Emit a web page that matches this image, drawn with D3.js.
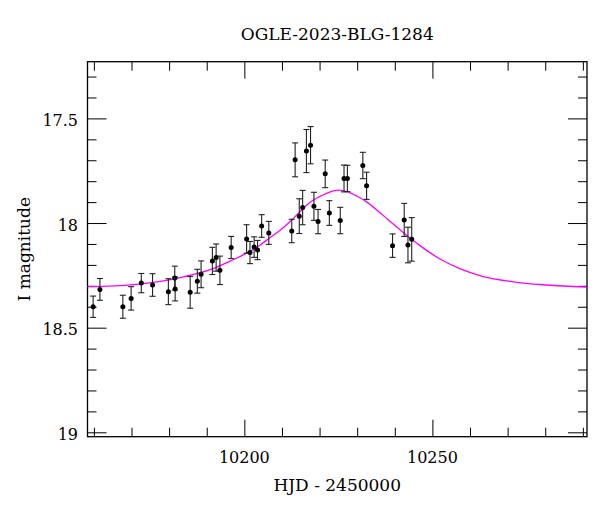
<!DOCTYPE html>
<html>
<head>
<meta charset="utf-8">
<script src="https://cdn.jsdelivr.net/npm/d3@7"></script>
<style>
  body { margin: 0; background: #fff; }
  text { font-family: "DejaVu Serif", serif; fill: #000; }
</style>
</head>
<body>
<svg class="js-graph" width="600" height="512"></svg>
<script>
/* <DATA> */
var title = 'OGLE-2023-BLG-1284';
var xLabel = 'HJD - 2450000';
var yLabel = 'I magnitude';

// observations
var hjd = [10159.8, 10161.6, 10167.7, 10169.9, 10172.6, 10175.6, 10179.8, 10181.5, 10181.6,
  10185.6, 10187.5, 10188.5, 10191.5, 10192.5, 10193.5, 10196.5, 10200.6, 10201.5, 10202.6,
  10203.5, 10204.6, 10206.5, 10212.6, 10213.5, 10214.6, 10215.5, 10216.5, 10217.6, 10218.5,
  10219.6, 10221.5, 10222.6, 10225.5, 10226.5, 10227.4, 10231.5, 10232.5, 10239.4, 10242.5,
  10243.5, 10244.5];
var mag = [18.400, 18.317, 18.400, 18.360, 18.287, 18.296, 18.328, 18.263, 18.315,
  18.331, 18.278, 18.245, 18.181, 18.165, 18.226, 18.117, 18.076, 18.141, 18.115,
  18.129, 18.014, 18.047, 18.038, 17.698, 17.967, 17.926, 17.656, 17.628, 17.920,
  17.993, 17.765, 17.952, 17.988, 17.787, 17.787, 17.725, 17.822, 18.108, 17.985,
  18.105, 18.078];
var magErr = [0.051, 0.052, 0.055, 0.056, 0.046, 0.054, 0.062, 0.057, 0.057,
  0.076, 0.057, 0.064, 0.065, 0.065, 0.068, 0.053, 0.068, 0.053, 0.049,
  0.046, 0.054, 0.055, 0.056, 0.081, 0.083, 0.082, 0.103, 0.089, 0.067,
  0.058, 0.066, 0.059, 0.063, 0.064, 0.063, 0.063, 0.065, 0.056, 0.079,
  0.085, 0.104];

// model curve
var modelHjd = [10158.3, 10170.7, 10183.9, 10191.7, 10196.2, 10200.6, 10204.1, 10206.8,
  10209.5, 10212.1, 10214.8, 10217.4, 10220.0, 10222.5, 10225.0, 10227.5, 10230.0,
  10232.6, 10235.5, 10238.3, 10241.0, 10243.8, 10246.7, 10252.0, 10257.3, 10262.6,
  10271.5, 10280.3, 10291.0];
var modelMag = [18.304, 18.294, 18.257, 18.218, 18.182, 18.144, 18.106, 18.070,
  18.035, 17.994, 17.946, 17.902, 17.874, 17.853, 17.843, 17.851, 17.872,
  17.900, 17.942, 17.985, 18.026, 18.068, 18.108, 18.172, 18.218, 18.251,
  18.281, 18.296, 18.306];

var xMajorTicks = [10200, 10250];
var xMinorTicks = [10160, 10170, 10180, 10190, 10210, 10220, 10230, 10240, 10260, 10270, 10280, 10290];
var yMajorTicks = [17.5, 18, 18.5, 19];
var yMinorTicks = [17.3, 17.4, 17.6, 17.7, 17.8, 17.9, 18.1, 18.2, 18.3, 18.4, 18.6, 18.7, 18.8, 18.9];
/* </DATA> */

(function drawChart(d3) {
  var frame = { left: 87.5, right: 587, top: 61.7, bottom: 436.7 };
  var svg = d3.select('.js-graph');

  var xScale = d3.scaleLinear().domain([10158.3, 10291.1]).range([frame.left, frame.right]);
  var yScale = d3.scaleLinear().domain([17.229, 19.021]).range([frame.top, frame.bottom]);

  var plotW = frame.right - frame.left;
  var plotH = frame.bottom - frame.top;

  // ticks, drawn inward on all four sides
  function tickAxis(gen, tx, ty, size, ticks) {
    svg.append('g')
      .attr('transform', 'translate(' + tx + ',' + ty + ')')
      .call(gen.tickValues(ticks).tickSize(size).tickSizeOuter(0).tickFormat(function () { return ''; }))
      .call(function (g) { g.select('.domain').remove(); })
      .call(function (g) { g.selectAll('line').attr('stroke', '#000'); });
  }

  tickAxis(d3.axisTop(xScale), 0, frame.bottom, 17, xMajorTicks);
  tickAxis(d3.axisTop(xScale), 0, frame.bottom, 9, xMinorTicks);
  tickAxis(d3.axisBottom(xScale), 0, frame.top, 17, xMajorTicks);
  tickAxis(d3.axisBottom(xScale), 0, frame.top, 9, xMinorTicks);
  tickAxis(d3.axisRight(yScale), frame.left, 0, 19, yMajorTicks);
  tickAxis(d3.axisRight(yScale), frame.left, 0, 9, yMinorTicks);
  tickAxis(d3.axisLeft(yScale), frame.right, 0, 19, yMajorTicks);
  tickAxis(d3.axisLeft(yScale), frame.right, 0, 9, yMinorTicks);

  // tick labels
  svg.append('g').selectAll('text')
    .data(xMajorTicks)
    .enter().append('text')
    .attr('x', function (d) { return xScale(d); })
    .attr('y', 462.5)
    .attr('text-anchor', 'middle')
    .style('font-size', '16px')
    .text(function (d) { return d; });

  svg.append('g').selectAll('text')
    .data(yMajorTicks)
    .enter().append('text')
    .attr('x', 78)
    .attr('y', function (d) { return yScale(d) + 7.5; })
    .attr('text-anchor', 'end')
    .style('font-size', '16px')
    .text(function (d) { return d; });

  // frame
  svg.append('rect')
    .attr('x', frame.left).attr('y', frame.top)
    .attr('width', plotW).attr('height', plotH)
    .attr('fill', 'none').attr('stroke', '#000').attr('stroke-width', 1.3);

  // model
  var line = d3.line()
    .x(function (d, i) { return xScale(modelHjd[i]); })
    .y(function (d) { return yScale(d); })
    .curve(d3.curveMonotoneX);
  svg.append('path')
    .attr('d', line(modelMag))
    .attr('fill', 'none')
    .attr('stroke', '#ff00ff')
    .attr('stroke-width', 1.3);

  // error bars
  var idx = d3.range(hjd.length);
  var bars = svg.append('g').attr('stroke', '#222').attr('stroke-width', 1.1);
  bars.selectAll('line.err')
    .data(idx).enter().append('line')
    .attr('x1', function (i) { return xScale(hjd[i]); })
    .attr('x2', function (i) { return xScale(hjd[i]); })
    .attr('y1', function (i) { return yScale(mag[i] - magErr[i]); })
    .attr('y2', function (i) { return yScale(mag[i] + magErr[i]); });
  [-1, 1].forEach(function (s) {
    bars.append('g').selectAll('line')
      .data(idx).enter().append('line')
      .attr('x1', function (i) { return xScale(hjd[i]) - 3; })
      .attr('x2', function (i) { return xScale(hjd[i]) + 3; })
      .attr('y1', function (i) { return yScale(mag[i] + s * magErr[i]); })
      .attr('y2', function (i) { return yScale(mag[i] + s * magErr[i]); });
  });

  // points
  svg.append('g').selectAll('circle')
    .data(idx).enter().append('circle')
    .attr('cx', function (i) { return xScale(hjd[i]); })
    .attr('cy', function (i) { return yScale(mag[i]); })
    .attr('r', 2.5)
    .attr('fill', '#000');

  // titles
  svg.append('text')
    .attr('x', (frame.left + frame.right) / 2)
    .attr('y', 39.5)
    .attr('text-anchor', 'middle')
    .style('font-size', '17px')
    .text(title);

  svg.append('text')
    .attr('x', (frame.left + frame.right) / 2)
    .attr('y', 491)
    .attr('text-anchor', 'middle')
    .style('font-size', '17px')
    .text(xLabel);

  svg.append('text')
    .attr('transform', 'translate(30,' + (frame.top + frame.bottom) / 2 + ') rotate(-90)')
    .attr('text-anchor', 'middle')
    .style('font-size', '17px')
    .text(yLabel);
}(d3));
</script>
</body>
</html>
